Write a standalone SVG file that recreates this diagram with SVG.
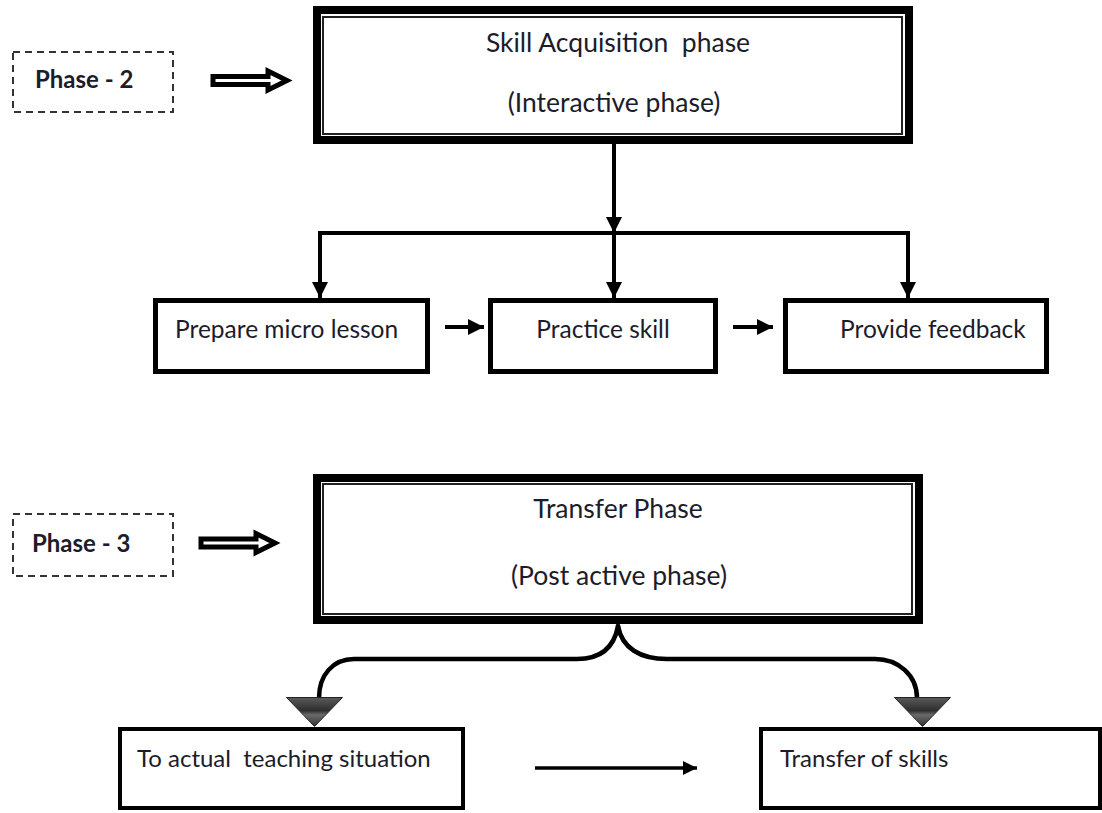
<svg xmlns="http://www.w3.org/2000/svg" width="1102" height="813" viewBox="0 0 1102 813">
  <style>
    text { font-family: Lato, "Open Sans", "Liberation Sans", sans-serif; fill: #1c1c2a; white-space: pre; }
    .lbl { font-size: 24.5px; }
    .low { font-size: 24px; }
    .big { font-size: 26.5px; }
    .phase { font-size: 24px; font-weight: bold; }
    .dash { fill: #fff; stroke: #333; stroke-width: 2; stroke-dasharray: 7 5; }
    .outer { fill: #fff; stroke: #000; stroke-width: 8; }
    .inner { fill: none; stroke: #222; stroke-width: 2; }
    .box { fill: #fff; stroke: #000; stroke-width: 5; }
    .box4 { fill: #fff; stroke: #000; stroke-width: 4; }
    .line { fill: none; stroke: #000; stroke-width: 4; }
    .curve { fill: none; stroke: #000; stroke-width: 4.5; stroke-linecap: round; }
  </style>
  <defs>
    <marker id="ah" viewBox="0 0 10 10" refX="10" refY="5" markerWidth="4" markerHeight="4" orient="auto" markerUnits="strokeWidth">
      <path d="M0,0 L10,5 L0,10 Z" fill="#000"/>
    </marker>
    <path id="hollow" d="M0,-4 L55,-4 L55,-9.5 L74,0 L55,9.5 L55,4 L0,4 Z" fill="#fff" stroke="#000" stroke-width="5" stroke-linejoin="miter"/>
    <linearGradient id="tri" x1="0" y1="0" x2="0" y2="1">
      <stop offset="0" stop-color="#5a5a5a"/>
      <stop offset="0.45" stop-color="#2e2e2e"/>
      <stop offset="0.6" stop-color="#6a6a6a"/>
      <stop offset="1" stop-color="#333"/>
    </linearGradient>
    <path id="tip" d="M-28,0 L28,0 L0,29 Z" fill="url(#tri)" stroke="#222" stroke-width="1"/>
  </defs>

  <!-- Phase 2 -->
  <g id="phase2-label">
    <rect class="dash" x="13" y="52" width="160" height="60"/>
    <text class="phase" x="35" y="88">Phase - 2</text>
  </g>
  <g id="skill-acquisition">
    <rect class="outer" x="317" y="10" width="592" height="130"/>
    <rect class="inner" x="323" y="17" width="579" height="117"/>
    <text class="big" x="618" y="52" text-anchor="middle">Skill Acquisition  phase</text>
    <text class="big" x="614" y="112" text-anchor="middle">(Interactive phase)</text>
  </g>
  <g id="prepare-micro-lesson">
    <rect class="box" x="155.5" y="300.5" width="272" height="71"/>
    <text class="lbl" x="175" y="338">Prepare micro lesson</text>
  </g>
  <g id="practice-skill">
    <rect class="box" x="490.5" y="300.5" width="225" height="71"/>
    <text class="lbl" x="603" y="338" text-anchor="middle">Practice skill</text>
  </g>
  <g id="provide-feedback">
    <rect class="box" x="785.5" y="300.5" width="261" height="71"/>
    <text class="lbl" x="840" y="338">Provide feedback</text>
  </g>

  <!-- Phase 3 -->
  <g id="phase3-label">
    <rect class="dash" x="13" y="514" width="160" height="62"/>
    <text class="phase" x="32" y="552">Phase - 3</text>
  </g>
  <g id="transfer-phase">
    <rect class="outer" x="317" y="478" width="602" height="142"/>
    <rect class="inner" x="323" y="484" width="589" height="130"/>
    <text class="big" x="618" y="518" text-anchor="middle">Transfer Phase</text>
    <text class="big" x="619" y="585" text-anchor="middle">(Post active phase)</text>
  </g>
  <g id="actual-teaching">
    <rect class="box4" x="120" y="729" width="343" height="79"/>
    <text class="low" x="137" y="767">To actual  teaching situation</text>
  </g>
  <g id="transfer-of-skills">
    <rect class="box4" x="761" y="729" width="339" height="79"/>
    <text class="low" x="780" y="767">Transfer of skills</text>
  </g>

  <g id="connectors">
    <!-- phase pointers -->
    <use href="#hollow" x="213" y="80.5"/>
    <use href="#hollow" x="201" y="543"/>
    <!-- interactive phase fan-out -->
    <line class="line" x1="614" y1="144" x2="614" y2="233" marker-end="url(#ah)"/>
    <polyline class="line" points="320,298 320,233 908,233 908,298"/>
    <line class="line" x1="320" y1="240" x2="320" y2="298" marker-end="url(#ah)"/>
    <line class="line" x1="614" y1="233" x2="614" y2="298" marker-end="url(#ah)"/>
    <line class="line" x1="908" y1="240" x2="908" y2="298" marker-end="url(#ah)"/>
    <line class="line" x1="445" y1="327" x2="484" y2="327" marker-end="url(#ah)"/>
    <line class="line" x1="733" y1="327" x2="773" y2="327" marker-end="url(#ah)"/>
    <!-- post active phase split -->
    <path class="curve" d="M618,626 C614,648 600,659 577,659 L354,659 C333,659 319,675 319,698"/>
    <path class="curve" d="M618,626 C622,648 640,659 667,659 L875,659 C898,659 917,675 917,698"/>
    <use href="#tip" x="314.5" y="697.5"/>
    <use href="#tip" x="922.5" y="697.5"/>
    <line x1="535" y1="768" x2="697" y2="768" stroke="#000" stroke-width="3.5" marker-end="url(#ah)"/>
  </g>
</svg>
